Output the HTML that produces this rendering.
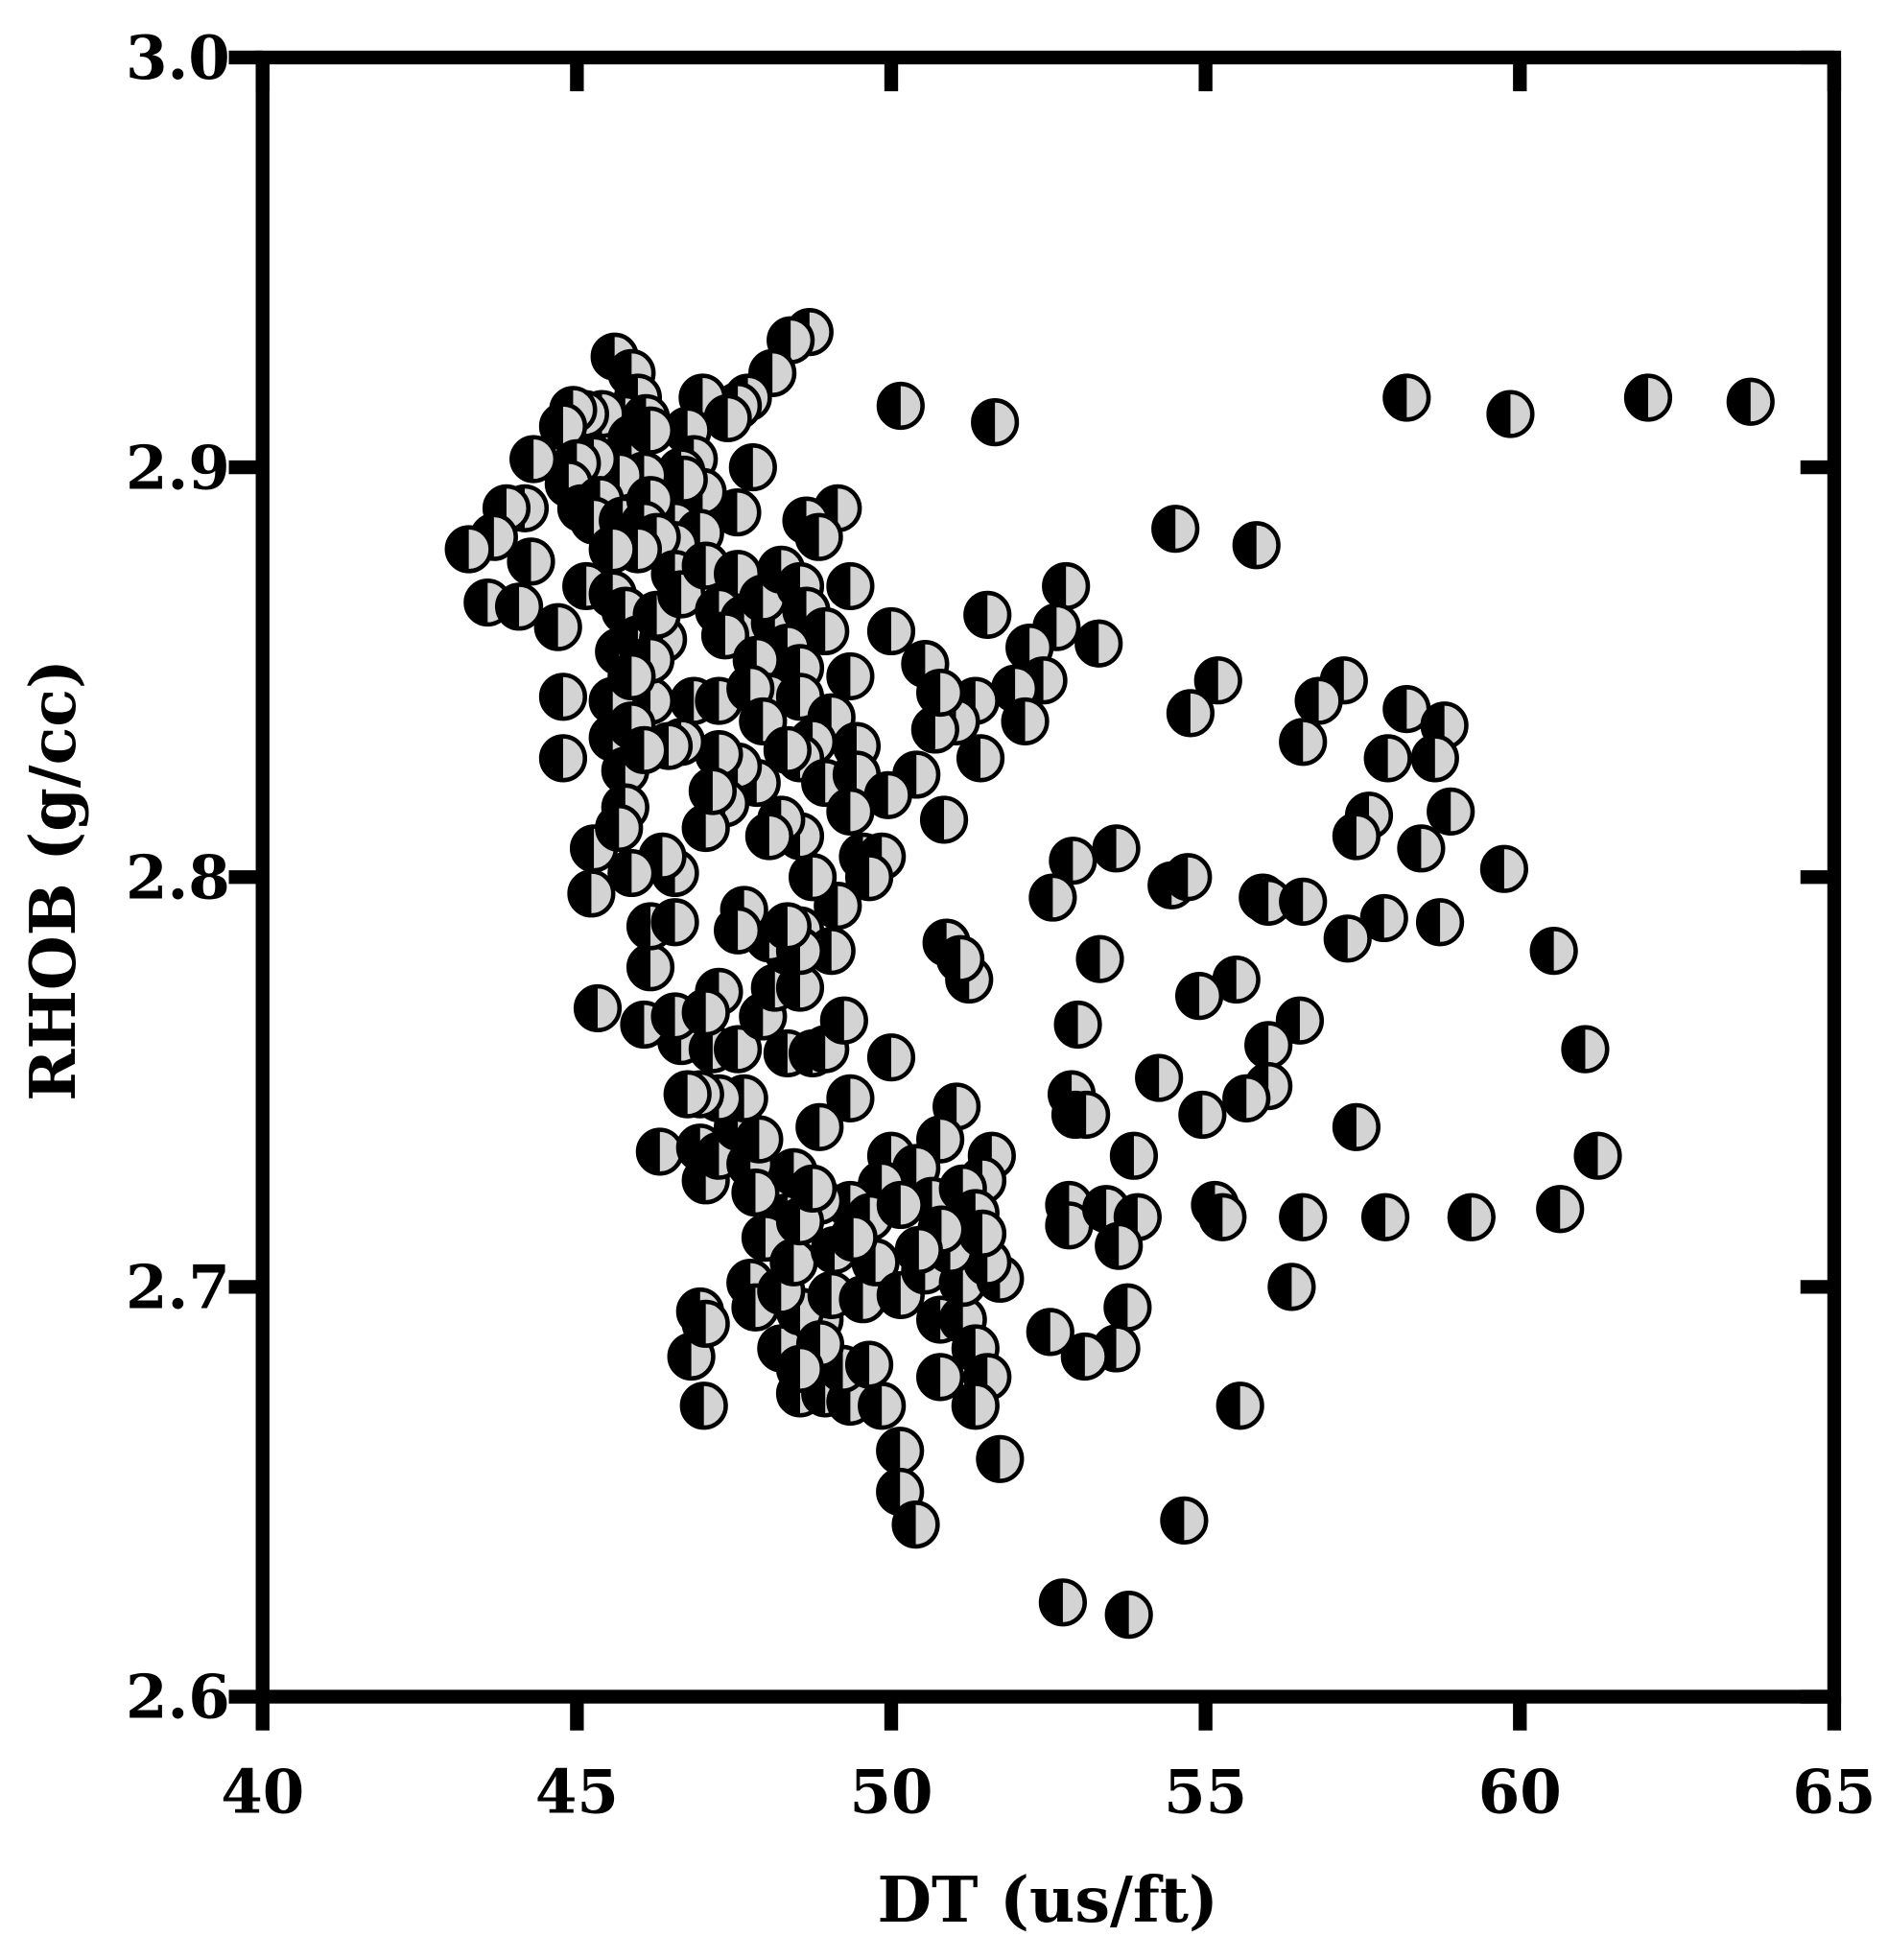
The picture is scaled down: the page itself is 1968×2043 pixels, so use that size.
<!DOCTYPE html>
<html><head><meta charset="utf-8"><style>
html,body{margin:0;padding:0;background:#fff;}
svg{display:block;}
text{font-family:"DejaVu Serif","Liberation Serif",serif;font-weight:bold;fill:#000;}
</style></head><body>
<svg id="chart" width="1968" height="2043" viewBox="0 0 1510 1567.6" xmlns="http://www.w3.org/2000/svg">
<g id="points"></g>
<g id="axes"></g>
</svg>
<script>
const xTicks=[40,45,50,55,60,65];
const yTicks=[2.6,2.7,2.8,2.9,3.0];
const yTickLabels=["2.6","2.7","2.8","2.9","3.0"];
const dtValues=[58.2,59.85,62.04,63.67,50.15,51.65,54.52,55.81,52.78,53.3,51.53,50.0,52.63,52.2,52.42,51.97,52.13,51.34,55.2,54.76,57.2,56.8,56.55,58.2,58.8,57.9,58.65,57.6,57.4,58.9,58.43,59.75,57.84,58.73,57.26,55.91,56.0,56.55,60.54,61.04,61.24,60.64,59.23,57.86,57.4,56.55,56.37,55.55,54.66,55.49,54.9,56.5,56.0,56.0,55.65,54.95,54.26,55.15,55.27,54.46,54.72,53.58,52.89,52.57,53.32,52.97,52.87,52.93,53.1,53.86,52.83,52.83,53.42,53.92,53.62,53.76,53.58,53.08,52.53,52.73,53.78,51.24,50.88,51.1,50.84,51.42,50.54,51.03,50.7,50.4,50.78,
51.04,50.78,51.6,51.45,50.0,50.4,50.65,49.85,49.35,49.66,48.86,48.35,48.0,47.76,47.84,48.25,48.55,48.95,49.35,49.85,50.14,50.14,50.39,48.86,48.55,49.05,49.55,49.75,50.15,50.54,50.78,51.14,51.14,51.73,51.53,50.94,51.34,51.53,51.34,50.78,51.73,49.23,48.87,49.65,48.55,48.25,48.45,49.1,49.4,51.14,51.34,51.45,50.8,50.15,50.44,
47.02,46.82,46.96,47.05,46.32,46.96,47.05,47.26,47.76,47.84,47.56,47.9,47.66,47.26,46.96,46.76,46.66,46.07,46.56,47.16,47.26,47.05,47.56,47.96,48.15,48.55,48.35,48.06,48.55,47.66,47.56,46.17,46.17,46.56,46.56,46.36,45.87,45.27,45.23,45.33,48.35,48.75,48.95,49.25,49.35,48.86,50.0,48.45,48.55,48.75,
48.7,48.4,48.11,47.72,47.56,47.0,47.4,47.8,47.55,46.76,46.86,46.66,47.0,46.7,46.56,46.96,46.56,45.6,45.87,45.97,45.77,46.1,45.4,45.13,44.94,44.78,45.87,46.17,46.07,45.68,45.27,45.0,44.87,45.07,45.37,45.27,45.73,46.17,46.07,46.27,45.97,45.57,44.31,44.17,43.88,43.68,43.28,44.27,43.58,44.08,44.7,45.15,45.57,45.77,45.67,45.97,46.37,46.27,46.56,46.66,47.05,47.56,47.26,47.66,47.36,48.15,47.96,48.25,48.55,48.65,48.95,49.35,49.15,48.65,48.85,48.35,47.86,48.55,48.06,48.55,49.35,49.05,48.75,48.55,48.95,49.45,49.45,49.95,49.35,49.55,49.85,49.65,49.15,48.75,48.55,48.25,48.06,47.86,47.56,47.26,47.36,47.05,47.16,46.86,47.26,47.76,47.96,48.35,46.66,46.46,46.17,45.57,44.78,44.78,45.57,45.87,45.77,45.77,45.67,46.17,45.87,46.07,49.05,48.55,48.35];
const rhobValues=[2.917,2.913,2.917,2.916,2.915,2.911,2.885,2.881,2.871,2.857,2.864,2.860,2.861,2.856,2.848,2.846,2.838,2.843,2.848,2.840,2.848,2.843,2.833,2.841,2.837,2.829,2.829,2.815,2.810,2.816,2.807,2.802,2.790,2.789,2.785,2.795,2.794,2.794,2.782,2.758,2.732,2.719,2.717,2.717,2.739,2.717,2.700,2.671,2.643,2.775,2.771,2.765,2.759,2.749,2.746,2.742,2.751,2.720,2.717,2.798,2.800,2.807,2.804,2.795,2.780,2.764,2.747,2.742,2.742,2.732,2.720,2.715,2.719,2.717,2.710,2.695,2.685,2.683,2.689,2.623,2.620,2.775,2.784,2.780,2.814,2.829,2.852,2.838,2.836,2.825,2.845,
2.744,2.736,2.732,2.726,2.732,2.729,2.721,2.725,2.720,2.717,2.721,2.717,2.712,2.701,2.695,2.685,2.674,2.674,2.672,2.671,2.660,2.650,2.642,2.692,2.694,2.698,2.697,2.706,2.698,2.704,2.692,2.692,2.701,2.702,2.706,2.709,2.685,2.678,2.671,2.678,2.658,2.680,2.686,2.681,2.680,2.699,2.706,2.709,2.712,2.724,2.718,2.713,2.714,2.720,2.709,
2.671,2.683,2.694,2.691,2.733,2.734,2.726,2.732,2.730,2.723,2.739,2.736,2.746,2.746,2.747,2.747,2.760,2.764,2.766,2.758,2.772,2.767,2.758,2.766,2.773,2.773,2.782,2.785,2.787,2.792,2.787,2.778,2.788,2.789,2.801,2.805,2.801,2.807,2.796,2.768,2.757,2.757,2.758,2.765,2.746,2.739,2.756,2.728,2.716,2.724,
2.933,2.931,2.923,2.917,2.915,2.917,2.912,2.900,2.889,2.909,2.902,2.899,2.894,2.897,2.886,2.884,2.881,2.927,2.923,2.917,2.912,2.912,2.913,2.913,2.914,2.910,2.907,2.909,2.898,2.898,2.902,2.901,2.896,2.890,2.892,2.887,2.887,2.892,2.886,2.883,2.880,2.880,2.902,2.890,2.890,2.883,2.880,2.877,2.867,2.866,2.861,2.871,2.869,2.865,2.855,2.858,2.858,2.864,2.874,2.869,2.876,2.874,2.865,2.863,2.859,2.862,2.868,2.875,2.871,2.865,2.860,2.871,2.890,2.887,2.883,2.856,2.853,2.851,2.844,2.844,2.849,2.839,2.833,2.829,2.823,2.832,2.825,2.820,2.816,2.805,2.805,2.800,2.793,2.800,2.810,2.814,2.810,2.823,2.827,2.830,2.818,2.812,2.821,2.843,2.843,2.846,2.838,2.831,2.833,2.832,2.843,2.843,2.844,2.829,2.834,2.837,2.826,2.817,2.812,2.853,2.849,2.831,2.782,2.782,2.788];

const NS="http://www.w3.org/2000/svg";
const X0=210,X1=1467,Y0=1357,Y1=46;
function xScale(v){return X0+(v-40)/(65-40)*(X1-X0);}
function yScale(v){return Y0-(v-2.6)/(3.0-2.6)*(Y0-Y1);}
function mk(tag,attrs,parent){const e=document.createElementNS(NS,tag);for(const k in attrs)e.setAttribute(k,attrs[k]);parent.appendChild(e);return e;}
const pts=document.getElementById('points');
const R=17.5;
for(let i=0;i<dtValues.length;i++){
  const cx=xScale(dtValues[i]),cy=yScale(rhobValues[i]);
  const g=mk('g',{},pts);
  
  
  mk('circle',{cx:cx,cy:cy,r:R,fill:'#d3d3d3',stroke:'#000','stroke-width':3.5},g);
  mk('path',{d:`M${cx},${cy-R} A${R},${R} 0 0 0 ${cx},${cy+R} Z`,fill:'#000'},g);
}
const ax=document.getElementById('axes');
const frame=mk('rect',{x:X0,y:Y1,width:X1-X0,height:Y0-Y1,fill:'none',stroke:'#000','stroke-width':11},ax);


xTicks.forEach(t=>{
  const x=xScale(t);
  mk('line',{x1:x,y1:Y0,x2:x,y2:Y0+27,stroke:'#000','stroke-width':11},ax);
  mk('line',{x1:x,y1:Y1,x2:x,y2:Y1+27,stroke:'#000','stroke-width':11},ax);
  const tx=mk('text',{x:x,y:1450,'text-anchor':'middle','font-size':48},ax);
  
  
  tx.textContent=String(t);
});
yTicks.forEach((t,i)=>{
  const y=yScale(t);
  mk('line',{x1:X0-27,y1:y,x2:X0,y2:y,stroke:'#000','stroke-width':11},ax);
  mk('line',{x1:X1-27,y1:y,x2:X1,y2:y,stroke:'#000','stroke-width':11},ax);
  const tx=mk('text',{x:184,y:y+17,'text-anchor':'end','font-size':48},ax);
  
  
  tx.textContent=yTickLabels[i];
});
const xt=mk('text',{x:838,y:1537,'text-anchor':'middle','font-size':50},ax);


xt.textContent='DT (us/ft)';
const yt=mk('text',{x:0,y:0,'text-anchor':'middle','font-size':50,transform:'translate(60,704) rotate(-90)'},ax);


yt.textContent='RHOB (g/cc)';
</script>
</body></html>
